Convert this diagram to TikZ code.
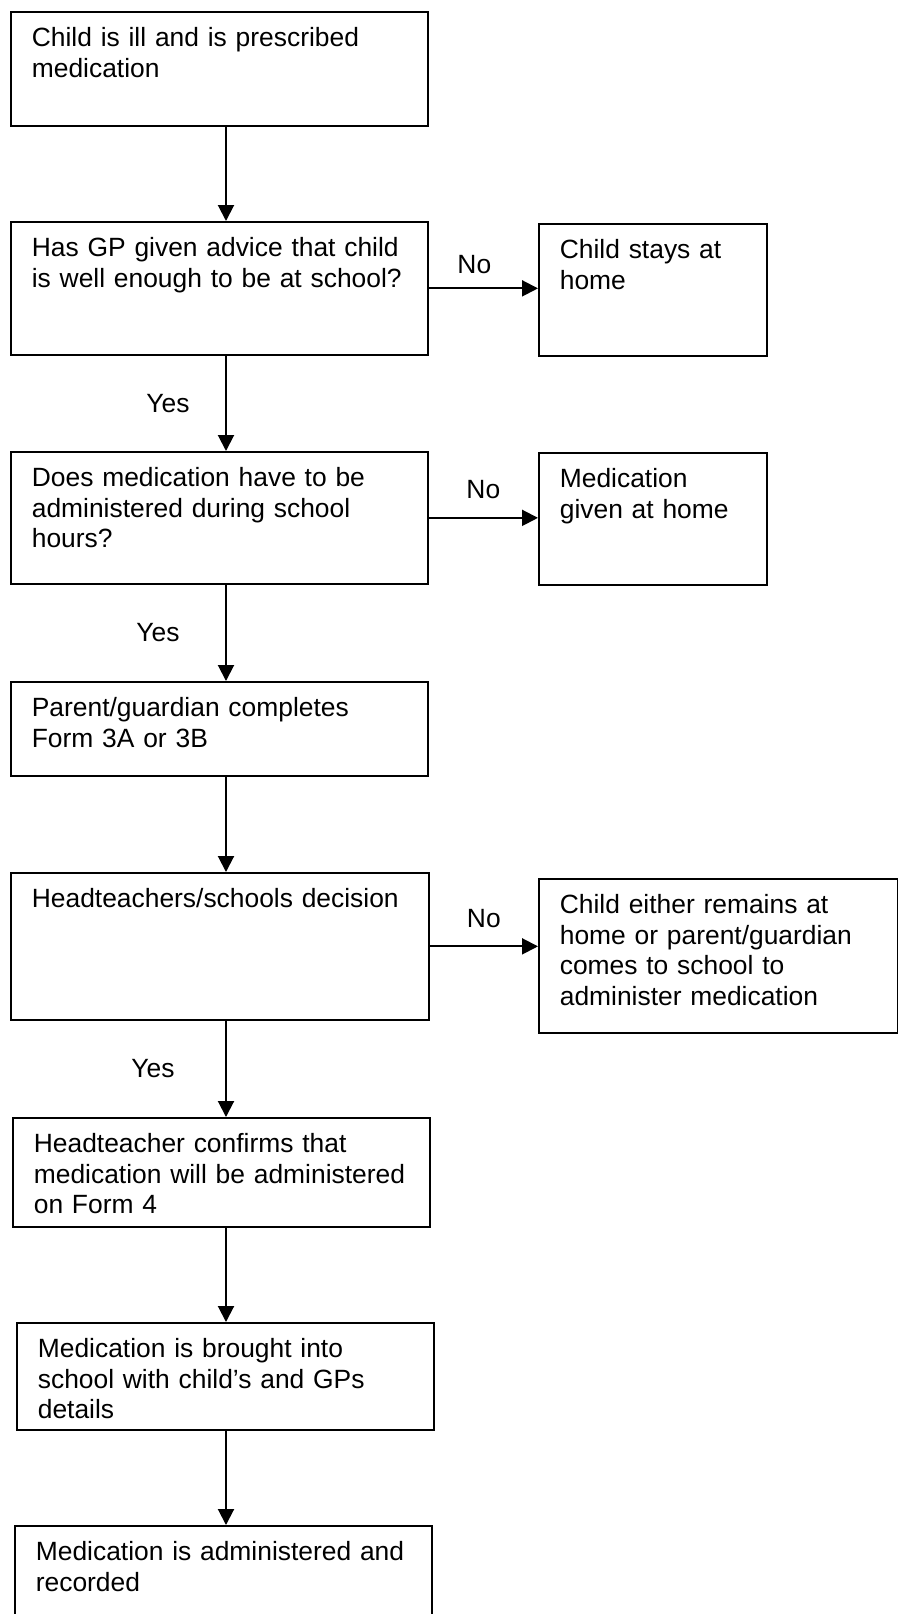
\documentclass[tikz,border=0pt]{standalone}
\usepackage{fontspec}
\setmainfont{Liberation Sans}
\usetikzlibrary{arrows.meta}

\begin{document}
\begin{tikzpicture}[x=0.5pt, y=-0.5pt, font=\fontsize{13.2pt}{15.2pt}\selectfont, >={Triangle[width=8pt,length=8pt]}]
    \clip (0,0) rectangle (898,1614);

    \tikzset{
        stepbox/.style 2 args = {draw, line width=0.85pt, anchor=north west, inner xsep=10.5pt, inner ysep=0pt,
                text width=#1, align=left, text height=17.5pt, text depth=#2},
        flow/.style = {->, line width=1pt},
        yes/.style = {midway, xshift=#1},
        no/.style = {midway, yshift=14pt},
    }

    % main column
    \node[stepbox={187.5pt}{39.5pt}] (ill) at (10,11) {Child is ill and is prescribed\\ medication};
    \node[stepbox={187.5pt}{49pt}] (gp) at (10,221) {Has GP given advice that child\\ is well enough to be at school?};
    \node[stepbox={187.5pt}{48.5pt}] (hours) at (10,451) {Does medication have to be\\ administered during school\\ hours?};
    \node[stepbox={187.5pt}{29.5pt}] (form) at (10,681) {Parent/guardian completes\\ Form 3A or 3B};
    \node[stepbox={188pt}{56pt}] (decision) at (10,872) {Headteachers/schools decision};
    \node[stepbox={187.5pt}{37pt}] (confirm) at (12,1117) {Headteacher confirms that\\ medication will be administered\\ on Form 4};
    \node[stepbox={187.5pt}{36pt}] (bring) at (16,1322) {Medication is brought into\\ school with child’s and GPs\\ details};
    \node[stepbox={187.5pt}{42.5pt}] (record) at (14,1525) {Medication is administered and\\ recorded};

    % side outcomes
    \node[stepbox={93pt}{48.5pt}] (stayhome) at (538,223) {Child stays at\\ home};
    \node[stepbox={93pt}{48.5pt}] (givenhome) at (538,452) {Medication\\ given at home};
    \node[stepbox={158.5pt}{59.5pt}] (parentin) at (538,878) {Child either remains at\\ home or parent/guardian\\ comes to school to\\ administer medication};

    \coordinate (spine) at (226,0);

    \draw[flow] (ill.south -| spine) -- (gp.north -| spine);
    \draw[flow] (gp.south -| spine) -- node[yes=-29pt] {Yes} (hours.north -| spine);
    \draw[flow] (hours.south -| spine) -- node[yes=-34pt] {Yes} (form.north -| spine);
    \draw[flow] (form.south -| spine) -- (decision.north -| spine);
    \draw[flow] (decision.south -| spine) -- node[yes=-36.5pt] {Yes} (confirm.north -| spine);
    \draw[flow] (confirm.south -| spine) -- (bring.north -| spine);
    \draw[flow] (bring.south -| spine) -- (record.north -| spine);

    \draw[flow] (gp.east) -- node[no, xshift=-4.5pt, yshift=-2pt] {No} (gp.east -| stayhome.west);
    \draw[flow] (hours.east) -- node[no] {No} (hours.east -| givenhome.west);
    \draw[flow] (decision.east) -- node[no] {No} (decision.east -| parentin.west);

\end{tikzpicture}
\end{document}
